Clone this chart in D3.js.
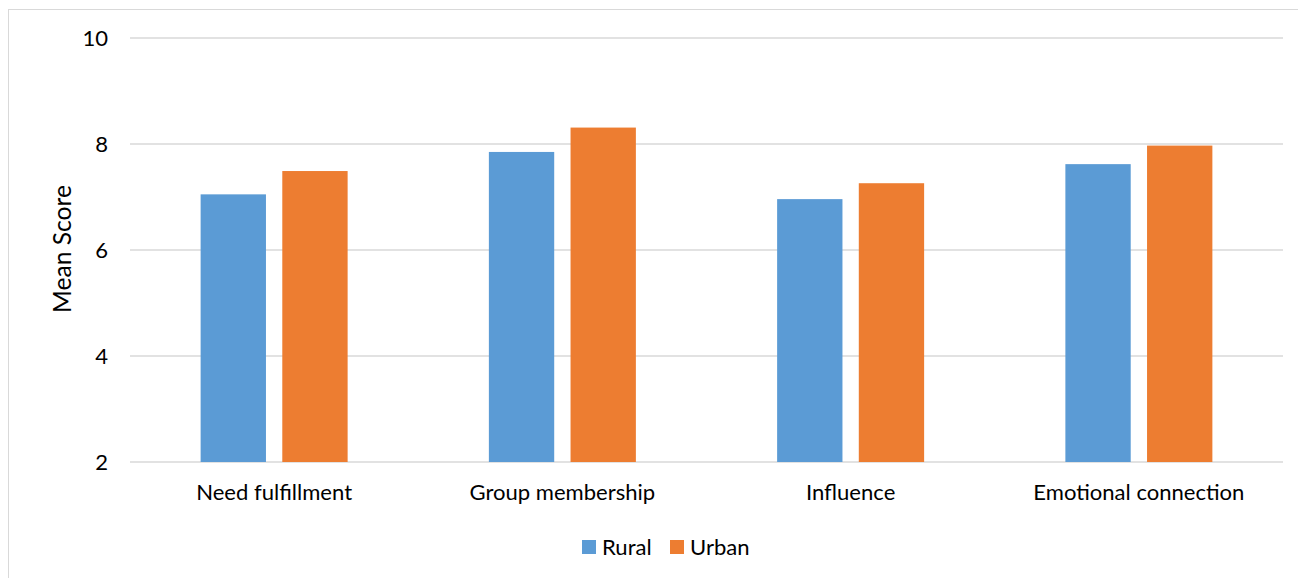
<!DOCTYPE html>
<html><head><meta charset="utf-8">
<script src="https://cdn.jsdelivr.net/npm/d3@7"></script>
<style>body{margin:0;background:#fff;} svg{display:block;font-family:Lato,"Open Sans",sans-serif;}</style>
</head><body>
<svg id="c" width="1298" height="578"></svg>
<script>
const categories = ["Need fulfillment","Group membership","Influence","Emotional connection"];
const seriesNames = ["Rural","Urban"];
const rural = [7.05, 7.85, 6.96, 7.62];
const urban = [7.49, 8.31, 7.26, 7.97];
const yTicks = [2,4,6,8,10];
const colors = ["#5B9BD5","#ED7D31"];

(function(){
const svg = d3.select("#c");
const FONT = "Lato,'Open Sans',sans-serif";
// measure font scale so label widths resemble the reference's Calibri
const probe = svg.append("text").attr("font-family",FONT).attr("font-size",100).text("Need fulfillment");
const lblSize = 100 * 156 / probe.node().getComputedTextLength();
probe.text("Mean Score");
const ttlSize = 100 * 128 / probe.node().getComputedTextLength();
probe.remove();

// chart frame
svg.append("rect").attr("x",8.5).attr("y",9.5).attr("width",1400).attr("height",700)
  .attr("fill","none").attr("stroke","#d9d9d9").attr("stroke-width",1);

const pL = 130, pR = 1283, pT = 38, pB = 462;
const x = d3.scaleBand().domain(categories).range([pL,pR]);
const y = d3.scaleLinear().domain([2,10]).range([pB,pT]);
const inner = d3.scaleBand().domain(seriesNames).range([0,147]).paddingInner(0.2);

// gridlines
svg.append("g").selectAll("line").data(yTicks).join("line")
  .attr("x1",pL).attr("x2",pR).attr("y1",d=>y(d)).attr("y2",d=>y(d))
  .attr("stroke","#d9d9d9").attr("stroke-width",1.3);

// y axis labels
const yAxis = d3.axisLeft(y).tickValues(yTicks).tickSize(0).tickPadding(0);
const ya = svg.append("g").attr("transform",`translate(${pL-22},0)`).call(yAxis);
ya.select(".domain").remove();
ya.selectAll("text").attr("font-size",lblSize).attr("fill","#000").attr("font-family",FONT).attr("dy","0.35em");

// bars
const data = categories.map((c,i)=>({c, vals:[rural[i],urban[i]]}));
const g = svg.append("g");
data.forEach(d=>{
  const cx = x(d.c) + x.bandwidth()/2 - 73.5;
  d.vals.forEach((v,j)=>{
    g.append("rect")
      .attr("x", cx + inner(seriesNames[j]))
      .attr("width", inner.bandwidth())
      .attr("y", y(v)).attr("height", y(2)-y(v))
      .attr("fill", colors[j]);
  });
});

// x axis labels
const xAxis = d3.axisBottom(x).tickSize(0).tickPadding(0);
const xa = svg.append("g").attr("transform",`translate(0,${pB+30})`).call(xAxis);
xa.select(".domain").remove();
xa.selectAll("text").attr("font-size",lblSize).attr("fill","#000").attr("font-family",FONT).attr("dy","0.35em");

// y axis title
svg.append("text").attr("transform","translate(62,249) rotate(-90)")
  .attr("text-anchor","middle").attr("dy","0.35em").attr("font-size",ttlSize).text("Mean Score");

// legend
const legendX = [582, 670];
seriesNames.forEach((s,i)=>{
  svg.append("rect").attr("x",legendX[i]).attr("y",540).attr("width",14).attr("height",14).attr("fill",colors[i]);
  svg.append("text").attr("x",legendX[i]+20).attr("y",547).attr("dy","0.35em")
    .attr("font-size",lblSize).text(s);
});
})();
</script>
</body></html>
